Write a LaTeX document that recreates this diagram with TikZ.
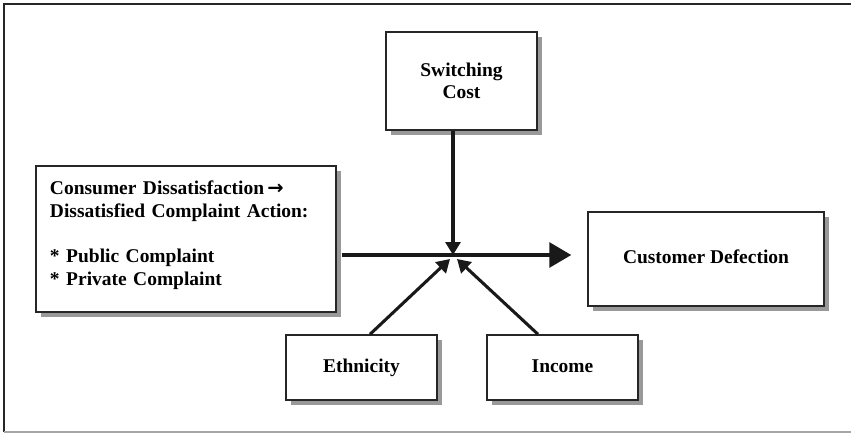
\documentclass[tikz,border=0pt]{standalone}
\usepackage{fontspec}
\setmainfont{Liberation Serif}
\newfontfamily\arrowfont{DejaVu Sans}
\usetikzlibrary{arrows.meta,shadows}

\begin{document}
\begin{tikzpicture}[x=0.75pt,y=-0.75pt,
	box/.style={draw=black!85,line width=1.1pt,fill=white,
		drop shadow={shadow xshift=3.75pt,shadow yshift=-3.75pt,fill=black!40,opacity=1},
		font=\fontsize{14.6}{17}\selectfont\bfseries,align=center,inner sep=0pt},
	oneline/.style={text height=10pt,text depth=3pt},
	link/.style={line width=2.3pt,black!90,-{Triangle[length=9.75pt,width=11.25pt]}},
	biglink/.style={line width=2.3pt,black!90,-{Triangle[length=16.5pt,width=18.75pt]}}]
	\useasboundingbox (0,0) rectangle (851,433);
	% frame
	\draw[line width=1.5pt,black!85] (851,4) -- (4,4) -- (4,432);
	\draw[line width=1.5pt,black!35] (4,432) -- (851,432);
	% boxes
	\node[box,minimum width=113.25pt,minimum height=73.5pt] (cost) at (461.5,81) {Switching\\Cost};
	\node[box,align=left,text width=204pt,inner xsep=10.5pt,minimum height=109.5pt] (dissat) at (186,239)
		{Consumer Dissatisfaction\,{\arrowfont\bfseries →}\\Dissatisfied Complaint Action:\\[17pt]{*} Public Complaint\\{*} Private Complaint\rule[-9pt]{0pt}{0pt}};
	\node[box,oneline,minimum width=177pt,minimum height=70.5pt] (defect) at (706,259) {Customer Defection};
	\node[box,oneline,minimum width=113.25pt,minimum height=48.75pt] (eth) at (361.5,367.5) {Ethnicity};
	\node[box,oneline,minimum width=113.25pt,minimum height=48.75pt] (inc) at (562.5,367.5) {Income};
	\coordinate (hub) at (453,255);
	% arrows
	\draw[biglink] ([xshift=3.75pt]dissat.east |- hub) -- ([xshift=-12pt]defect.west |- hub);
	\draw[link] (cost.south -| hub) -- (hub);
	\draw[link] ([xshift=6.4pt]eth.north) -- ([shift={(-3,4)}]hub);
	\draw[link] ([xshift=-18.4pt]inc.north) -- ([shift={(4,4)}]hub);
\end{tikzpicture}
\end{document}
